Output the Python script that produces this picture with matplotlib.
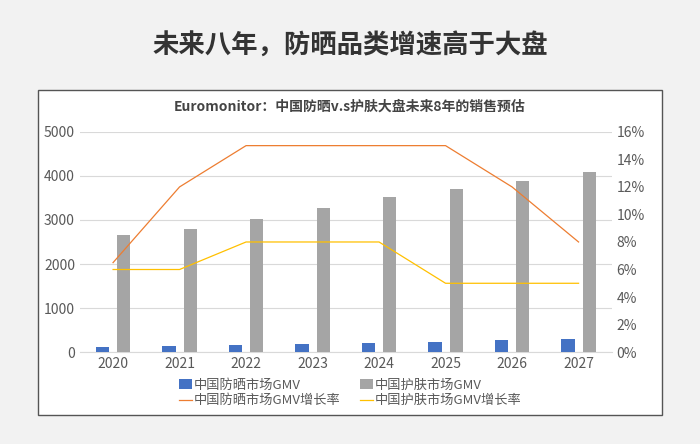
import matplotlib
matplotlib.use('Agg')
from matplotlib import pyplot as plt
from matplotlib.patches import Rectangle
import numpy as np

plt.rcParams['font.family'] = ['Noto Sans CJK SC', 'DejaVu Sans']

years = ['2020', '2021', '2022', '2023', '2024', '2025', '2026', '2027']
sun_gmv = [120, 135, 160, 185, 210, 240, 270, 300]
skin_gmv = [2650, 2800, 3020, 3270, 3530, 3700, 3890, 4090]
sun_growth = [6.5, 12, 15, 15, 15, 15, 12, 8]
skin_growth = [6, 6, 8, 8, 8, 5, 5, 5]

fig = plt.figure(figsize=(7, 4.44), dpi=100)
fig.patch.set_facecolor('#f2f2f2')
fig.text(0.5, 0.895, '未来八年，防晒品类增速高于大盘', ha='center', va='center',
         fontsize=19, fontweight='bold', color='#333333')
box = Rectangle((0.054, 0.065), 0.892, 0.733, transform=fig.transFigure,
                facecolor='white', edgecolor='#555555', lw=1, zorder=-5)
fig.patches.append(box)
fig.text(0.5, 0.76, 'Euromonitor：中国防晒v.s护肤大盘未来8年的销售预估', ha='center',
         va='center', fontsize=10, fontweight='bold', color='#444444')

ax = fig.add_axes([0.114, 0.207, 0.76, 0.496])
ax.set_zorder(1)
ax.set_facecolor('none')
x = np.arange(len(years))
w = 0.2
b1 = ax.bar(x - 0.16, sun_gmv, w, color='#4472c4', label='中国防晒市场GMV', zorder=3)
b2 = ax.bar(x + 0.16, skin_gmv, w, color='#a5a5a5', label='中国护肤市场GMV', zorder=3)
ax.set_ylim(0, 5000)
ax.set_yticks(range(0, 5001, 1000))
ax.set_xlim(-0.5, len(years) - 0.5)
ax.set_xticks(x)
ax.set_xticklabels(years)
ax.grid(axis='y', color='#d9d9d9', lw=0.8, zorder=0)
for s in ['top', 'right', 'left']:
    ax.spines[s].set_visible(False)
ax.spines['bottom'].set_color('#d9d9d9')
ax.tick_params(length=0, colors='#595959', labelsize=10)

ax2 = ax.twinx()
ax2.set_zorder(2)
l1, = ax2.plot(x, sun_growth, color='#ed7d31', lw=0.9, label='中国防晒市场GMV增长率')
l2, = ax2.plot(x, skin_growth, color='#ffc000', lw=0.9, label='中国护肤市场GMV增长率')
ax2.set_ylim(0, 16)
ax2.set_yticks(range(0, 17, 2))
ax2.set_yticklabels([f'{v}%' for v in range(0, 17, 2)])
for s in ax2.spines.values():
    s.set_visible(False)
ax2.tick_params(length=0, colors='#595959', labelsize=10)

handles = [b1, l1, b2, l2]
fig.legend(handles, [h.get_label() for h in handles], ncol=2, loc='center',
           bbox_to_anchor=(0.5, 0.115), frameon=False, fontsize=9.5,
           labelcolor='#595959', handlelength=1.0, handletextpad=0.1,
           columnspacing=1.5, labelspacing=0.2)
fig.savefig('out.png', dpi=100, facecolor=fig.get_facecolor())
